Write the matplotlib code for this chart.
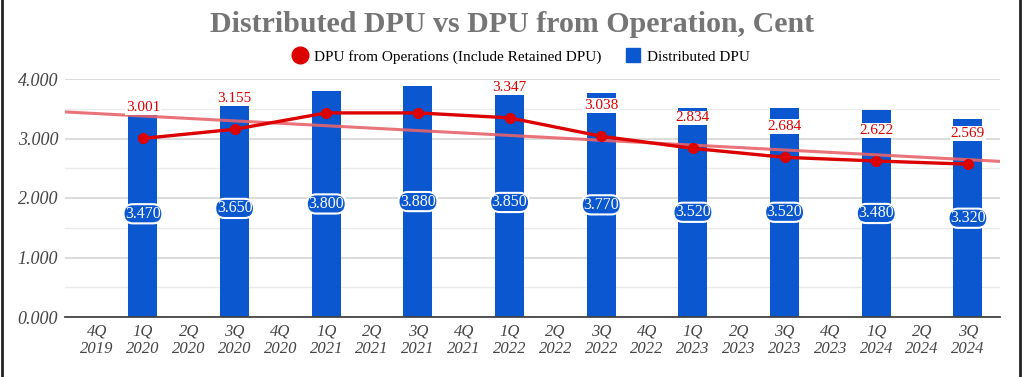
import numpy as np
import matplotlib
matplotlib.use("Agg")
import matplotlib.pyplot as plt
from matplotlib.lines import Line2D
from matplotlib.ticker import MultipleLocator, FormatStrFormatter

quarters = ["4Q\n2019", "1Q\n2020", "2Q\n2020", "3Q\n2020", "4Q\n2020",
            "1Q\n2021", "2Q\n2021", "3Q\n2021", "4Q\n2021",
            "1Q\n2022", "2Q\n2022", "3Q\n2022", "4Q\n2022",
            "1Q\n2023", "2Q\n2023", "3Q\n2023", "4Q\n2023",
            "1Q\n2024", "2Q\n2024", "3Q\n2024"]
nan = np.nan
distributed_dpu = [nan, 3.470, nan, 3.650, nan, 3.800, nan, 3.880, nan, 3.850,
                   nan, 3.770, nan, 3.520, nan, 3.520, nan, 3.480, nan, 3.320]
dpu_operations = [nan, 3.001, nan, 3.155, nan, 3.43, nan, 3.43, nan, 3.347,
                  nan, 3.038, nan, 2.834, nan, 2.684, nan, 2.622, nan, 2.569]
ops_labelled = [False, True, False, True, False, False, False, False, False, True,
                False, True, False, True, False, True, False, True, False, True]

title = "Distributed DPU vs DPU from Operation, Cent"
line_name = "DPU from Operations (Include Retained DPU)"
bar_name = "Distributed DPU"

BLUE = "#0b57d0"
RED = "#dd0000"
TREND = "#e8636b"
SERIF = "Liberation Serif"

fig = plt.figure(figsize=(10.24, 3.77), dpi=100)
ax = fig.add_axes([65/1024, 1-317/377, 935/1024, 238/377])

x = np.arange(len(quarters))
bars = np.array(distributed_dpu, dtype=float)
ops = np.array(dpu_operations, dtype=float)
bm = np.isfinite(bars)
om = np.isfinite(ops)

ax.bar(x[bm], bars[bm], width=0.63, color=BLUE, zorder=2)

# trend line (linear fit of operations series)
k, b = np.polyfit(x[om], ops[om], 1)
xt = np.array([-0.7, 19.7])
ax.plot(xt, k*xt + b, color=TREND, lw=2.2, alpha=0.9, zorder=3)

ax.plot(x[om], ops[om], color=RED, lw=2.4, marker="o", ms=7, zorder=4)

for xi, v in zip(x[bm], bars[bm]):
    ax.text(xi, v/2, f"{v:.3f}", ha="center", va="center", color="white",
            fontsize=11.5, family=SERIF, zorder=6,
            bbox=dict(boxstyle="round,pad=0.1,rounding_size=0.6", fc=BLUE, ec="white", lw=1.5))

for xi, v, lab in zip(x, ops, ops_labelled):
    if lab and np.isfinite(v):
        ax.annotate(f"{v:.3f}", (xi, v), xytext=(0, 22), textcoords="offset points",
                    ha="center", va="center", color=RED, fontsize=11, family=SERIF,
                    zorder=6, bbox=dict(boxstyle="square,pad=0.05", fc="white", ec="none"))

ax.set_xlim(-0.7, 19.7)
ax.set_ylim(0, 4.0)
ax.yaxis.set_major_locator(MultipleLocator(1.0))
ax.yaxis.set_minor_locator(MultipleLocator(0.5))
ax.yaxis.set_major_formatter(FormatStrFormatter("%.3f"))
ax.grid(axis="y", which="major", color="#d6d6d6", lw=1.2, zorder=0)
ax.grid(axis="y", which="minor", color="#ebebeb", lw=1.0, zorder=0)
ax.set_axisbelow(True)
for s in ["top", "right", "left"]:
    ax.spines[s].set_visible(False)
ax.spines["bottom"].set_color("#444444")
ax.spines["bottom"].set_linewidth(1.3)
ax.spines["bottom"].set_zorder(5)
ax.tick_params(axis="both", which="both", length=0)
ax.tick_params(axis="y", pad=5)
ax.tick_params(axis="x", pad=5)
ax.set_xticks(x)
ax.set_xticklabels(quarters, linespacing=1.05)
for t in ax.get_yticklabels():
    t.set_fontfamily(SERIF); t.set_fontstyle("italic"); t.set_fontsize(13); t.set_color("#444444")
for t in ax.get_xticklabels():
    t.set_fontfamily(SERIF); t.set_fontstyle("italic"); t.set_fontsize(12); t.set_color("#444444")

fig.text(0.5, 1-25/377, title, ha="center", va="center", fontsize=21.5,
         fontweight="bold", family=SERIF, color="#757575")

handles = [Line2D([], [], marker="o", color="none", markerfacecolor=RED, markeredgecolor=RED, ms=12),
           Line2D([], [], marker="s", color="none", markerfacecolor=BLUE, markeredgecolor=BLUE, ms=10.5)]
fig.legend(handles, [line_name, bar_name], loc="center", bbox_to_anchor=(0.508, 1-57/377),
           ncol=2, frameon=False, prop={"family": SERIF, "size": 11},
           handletextpad=0.3, columnspacing=1.5, handlelength=1.2)

fig.add_artist(Line2D([1.5/1024, 1.5/1024], [0, 1], color="#222222", lw=2, transform=fig.transFigure))
fig.add_artist(Line2D([1019.5/1024, 1019.5/1024], [0, 1], color="#222222", lw=2, transform=fig.transFigure))

fig.savefig("out.png", dpi=100)
